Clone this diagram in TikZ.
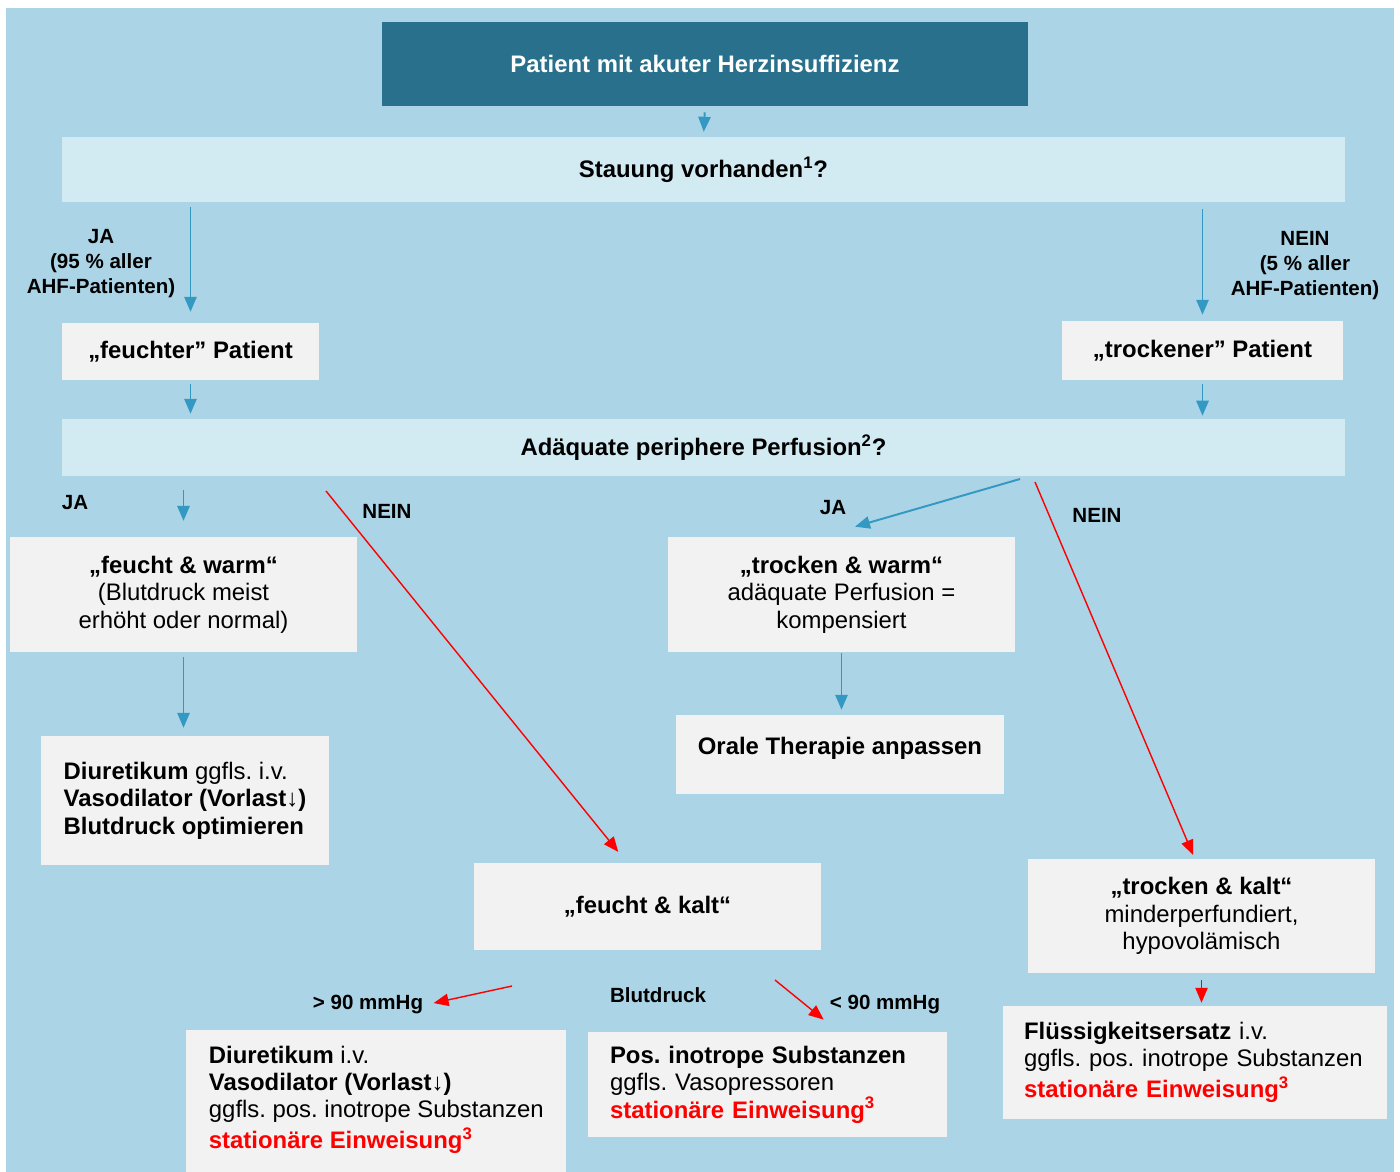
\documentclass[tikz,border=0pt]{standalone}
\usepackage{fontspec}
\setmainfont{Liberation Sans}
\usetikzlibrary{arrows.meta,calc}
\definecolor{bgblue}{HTML}{ABD4E6}
\definecolor{darkblue}{HTML}{28708C}
\definecolor{barblue}{HTML}{D2EAF2}
\definecolor{boxgrey}{HTML}{F2F2F2}
\definecolor{arrowblue}{HTML}{3398C2}
\frenchspacing
\newcommand{\mainsize}{\fontsize{13.6}{15.6}\selectfont}
\newcommand{\tagsize}{\fontsize{11.7}{14.2}\selectfont}
\tikzstyle{box}=[rectangle,fill=boxgrey,inner sep=0pt,align=center,font=\mainsize]
\tikzstyle{band}=[box,fill=barblue,font=\mainsize\bfseries,minimum width=25.66cm]
\tikzstyle{tag}=[align=center,font=\tagsize\bfseries]
\tikzstyle{edge}=[draw,arrowblue,line width=1.1pt,-{Triangle[length=8.5pt,width=7pt]}]
\tikzstyle{redge}=[draw,red,line width=0.8pt,-{Triangle[length=8.5pt,width=7pt]}]

\begin{document}
\begin{tikzpicture}[x=0.02cm,y=-0.02cm]
    \fill[bgblue] (6,8) rectangle (1394,1180);

    \node[box,fill=darkblue,text=white,font=\mainsize\bfseries,minimum width=12.92cm,minimum height=1.68cm] (0) at (705,64) {Patient mit akuter Herzinsuffizienz};
    \node[band,minimum height=1.3cm] (1) at (703.5,169.5) {Stauung vorhanden\textsuperscript{1}?};
    \node[box,font=\mainsize\bfseries,minimum width=5.14cm,minimum height=1.14cm] (2) at (190.5,351.5) {„feuchter” Patient};
    \node[box,font=\mainsize\bfseries,minimum width=5.62cm,minimum height=1.18cm] (3) at (1202.5,350.5) {„trockener” Patient};
    \node[band,minimum height=1.14cm] (4) at (703.5,447.5) {Adäquate periphere Perfusion\textsuperscript{2}?};
    \node[box,minimum width=6.94cm,minimum height=2.3cm] (5) at (183.5,594.5) {\textbf{„feucht \& warm“}\\(Blutdruck meist\\erhöht oder normal)};
    \node[box,minimum width=6.94cm,minimum height=2.3cm] (6) at (841.5,594.5) {\textbf{„trocken \& warm“}\\adäquate Perfusion =\\kompensiert};
    \node[box,align=left,minimum width=5.76cm,minimum height=2.58cm] (7) at (185,800.5) {\textbf{Diuretikum} ggfls. i.v.\\\textbf{Vasodilator (Vorlast}↓\textbf{)}\\\textbf{Blutdruck optimieren}};
    \node[box,font=\mainsize\bfseries,text depth=0.34cm,minimum width=6.56cm,minimum height=1.58cm] (8) at (840,754.5) {Orale Therapie anpassen};
    \node[box,font=\mainsize\bfseries,minimum width=6.94cm,minimum height=1.74cm] (9) at (647.5,906.5) {„feucht \& kalt“};
    \node[box,minimum width=6.94cm,minimum height=2.28cm] (10) at (1201.5,916) {\textbf{„trocken \& kalt“}\\minderperfundiert,\\hypovolämisch};
    \node[box,align=left,anchor=north west,minimum width=7.6cm,inner ysep=0.31cm] (11) at (186,1030) {\textbf{Diuretikum} i.v.\\\textbf{Vasodilator (Vorlast}↓\textbf{)}\\ggfls. pos. inotrope Substanzen\\[2pt]\textcolor{red}{\textbf{stationäre Einweisung\textsuperscript{3}}}\rule[-0.6cm]{0pt}{0.1cm}};
    \node[box,align=left,text width=6.3cm,inner xsep=0.44cm,minimum height=2.1cm] (12) at (767.5,1084.5) {\textbf{Pos. inotrope Substanzen}\\ggfls. Vasopressoren\\\textcolor{red}{\textbf{stationäre Einweisung\textsuperscript{3}}}};
    \node[box,align=left,text width=6.84cm,inner xsep=0.42cm,minimum height=2.26cm] (13) at (1195,1062.5) {\textbf{Flüssigkeitsersatz} i.v.\\ggfls. pos. inotrope Substanzen\\[2pt]\textcolor{red}{\textbf{stationäre Einweisung\textsuperscript{3}}}};

    \node[tag] (14) at (101,264) {JA\\(95 \% aller\\AHF-Patienten)};
    \node[tag] (15) at (1305,266) {NEIN\\(5 \% aller\\AHF-Patienten)};
    \node[tag] (16) at (75,503) {JA};
    \node[tag] (17) at (387,511) {NEIN};
    \node[tag] (18) at (833,508) {JA};
    \node[tag] (19) at (1097,515) {NEIN};
    \node[tag] (20) at (368,1004) {> 90 mmHg};
    \node[tag] (21) at (658,995) {Blutdruck};
    \node[tag] (22) at (885,1004) {< 90 mmHg};

    \coordinate (c1) at (326,491);
    \coordinate (c2) at (1020,479);
    \coordinate (c3) at (1035,482);
    \coordinate (c4) at (512,986);
    \coordinate (c5) at (775,980);

    \path[edge,shorten <=3.4pt,shorten >=2.8pt] (0.south) -- (1.north);
    \path[edge,shorten <=2.8pt,shorten >=6.2pt] (1.south -| 2.north) -- (2.north);
    \path[edge,shorten <=4pt,shorten >=3.4pt] (1.south -| 3.north) -- (3.north);
    \path[edge,shorten <=2.3pt,shorten >=2.8pt] (2.south) -- (2.south |- 4.north);
    \path[edge,shorten <=2.3pt,shorten >=1.7pt] (3.south) -- (3.south |- 4.north);
    \path[edge,shorten <=8pt,shorten >=9pt] (4.south -| 5.north) -- (5.north);
    \path[edge,shorten <=2.8pt,shorten >=4.5pt] (5.south) -- (5.south |- 7.north);
    \path[edge,shorten <=0.6pt,shorten >=2.8pt] (6.south) -- (6.south |- 8.north);
    \path[edge] (c2) -- ($(6.north)+(13.5,-10)$);
    \path[redge,shorten >=7.9pt] (c1) -- ($(9.north)+(-20.5,0)$);
    \path[redge,shorten >=2.3pt] (c3) -- ($(10.north)+(-6.8,0)$);
    \path[redge,shorten >=2.5pt] (c4) -- (20.east);
    \path[redge] (c5) -- (22.south west);
    \path[redge,shorten <=4pt,shorten >=1.7pt] (10.south) -- (10.south |- 13.north);

    \pgfresetboundingbox
    \path[use as bounding box] (0,0) rectangle (1400,1171);
\end{tikzpicture}
\end{document}
